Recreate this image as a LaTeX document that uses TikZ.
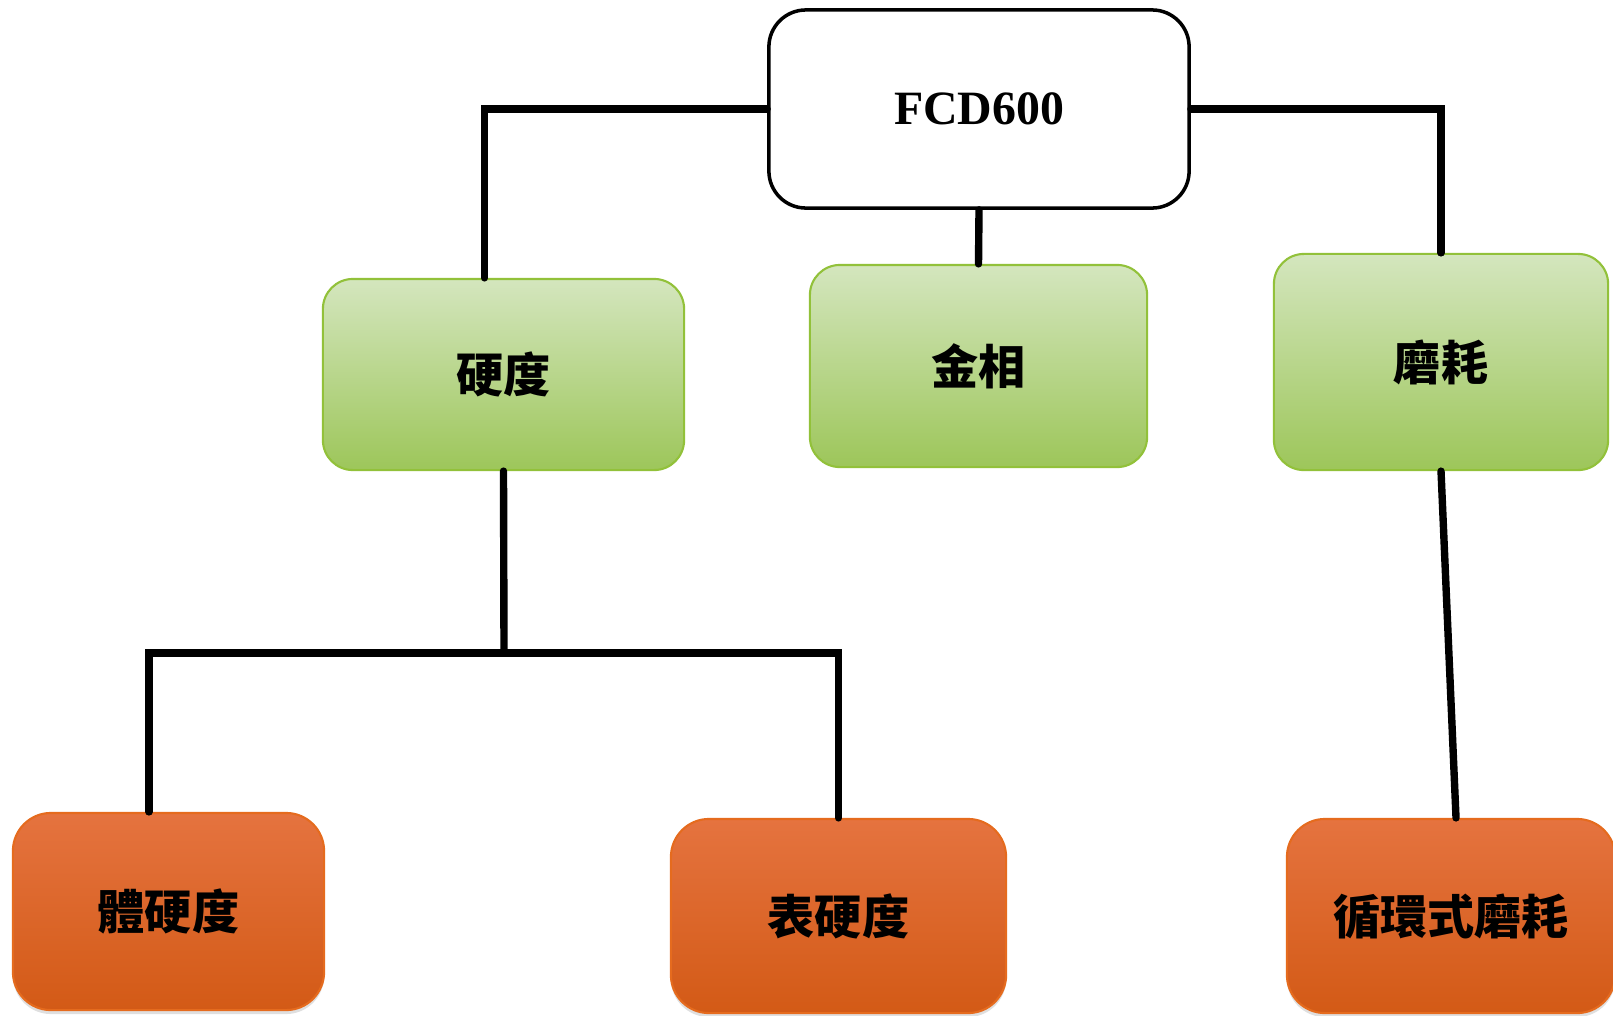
\documentclass[tikz,border=0pt]{standalone}
\usepackage{fontspec}
\usepackage{tikz}
\usetikzlibrary{positioning,shadows}
\setmainfont{Liberation Serif}
\newfontfamily\cjk{Noto Sans CJK TC}
\definecolor{ink}{HTML}{000000}
\definecolor{leaftop}{HTML}{D4E6BE}
\definecolor{leafbot}{HTML}{9DC65A}
\definecolor{leafrim}{HTML}{92C13A}
\definecolor{rusttop}{HTML}{E5733F}
\definecolor{rustbot}{HTML}{D35A16}
\definecolor{rustrim}{HTML}{E56B1E}
\tikzset{
  rootbox/.style={draw=ink,fill=white,line width=1pt,rounded corners=0.37cm,
                  align=center,font=\bfseries\fontsize{13.6}{16}\selectfont},
  greenbox/.style={draw=leafrim,top color=leaftop,bottom color=leafbot,
                   line width=0.6pt,rounded corners=0.3cm,align=center,
                   font=\cjk\bfseries\fontsize{13.4}{15}\selectfont},
  orangebox/.style={draw=rustrim,top color=rusttop,bottom color=rustbot,
                    line width=0.6pt,rounded corners=0.38cm,align=center,
                    drop shadow={opacity=0.25,shadow xshift=0pt,shadow yshift=-0.04cm},
                    font=\cjk\bfseries\fontsize{13.4}{15}\selectfont},
  link/.style={draw=ink,line width=2.1pt,line cap=round}
}
\begin{document}
\begin{tikzpicture}[x=0.01cm,y=-0.01cm]
    \path[use as bounding box] (0,0) rectangle (1613,1015);

    \node[rootbox,minimum width=4.20cm,minimum height=1.98cm] (root) at (979,109) {FCD600};

    \node[greenbox,minimum width=3.61cm,minimum height=1.91cm] (hard) at (503.5,374.5) {硬度};
    \node[greenbox,minimum width=3.37cm,minimum height=2.02cm] (metal) at (978.5,366) {金相};
    \node[greenbox,minimum width=3.34cm,minimum height=2.16cm] (wear) at (1441,362) {磨耗};

    \node[orangebox,minimum width=3.11cm,minimum height=1.97cm] (bulk) at (168.5,911.5) {體硬度};
    \node[orangebox,minimum width=3.35cm,minimum height=1.94cm] (surf) at (838.5,916) {表硬度};
    \node[orangebox,minimum width=3.28cm,minimum height=1.94cm] (cyc) at (1451,916) {循環式磨耗};

    \coordinate (split) at (504,653);

    \draw[link] (root.west) -| ([xshift=-0.19cm]hard.north);
    \draw[link] (root.east) -| (wear.north);
    \draw[link] (root.south) -- (metal.north);
    \draw[link] (hard.south) -- (split);
    \draw[link] ([xshift=-0.195cm]bulk.north) |- (split) -| (surf.north);
    \draw[link] (wear.south) -- ([xshift=0.05cm]cyc.north);
\end{tikzpicture}
\end{document}
